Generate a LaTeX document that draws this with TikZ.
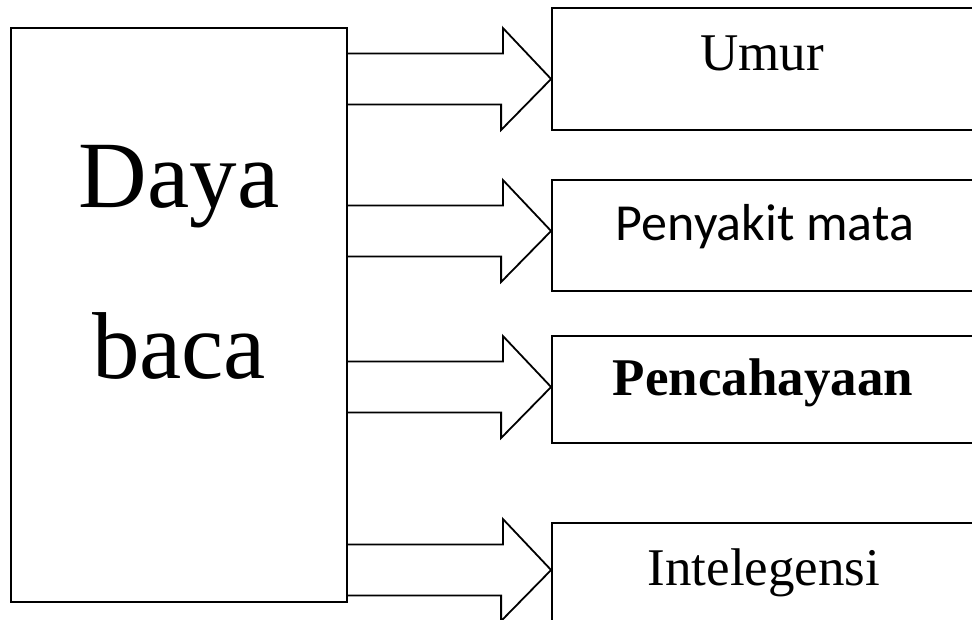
\documentclass[tikz,border=0pt]{standalone}
\usepackage{fontspec}
\setmainfont{Liberation Serif}
\newfontfamily\calibrifont{Carlito}
\begin{document}
\begin{tikzpicture}[x=1pt,y=-1pt,
  boxs/.style={draw=black,line width=1.8pt,inner sep=0pt},
  blk/.style={draw=black,line width=1.8pt,line join=miter},
  lbl/.style={anchor=base,inner sep=0pt,font=\fontsize{53}{60}\selectfont}]
\clip (0,0) rectangle (972,619);
\fill[white] (0,0) rectangle (972,619);
% source box
\node[boxs,minimum width=336pt,minimum height=574pt] (src) at (179,315) {};
\node[anchor=base,inner sep=0pt,font=\fontsize{95}{100}\selectfont] (daya) at (179,207) {Daya};
\node[anchor=base,inner sep=0pt,font=\fontsize{95}{100}\selectfont] (baca) at (179,378) {baca};
% target boxes
\node[boxs,minimum width=422pt,minimum height=122pt] (b1) at (763,69) {};
\node[boxs,minimum width=422pt,minimum height=111pt] (b2) at (763,235.5) {};
\node[boxs,minimum width=422pt,minimum height=107pt] (b3) at (763,389.5) {};
\node[boxs,minimum width=422pt,minimum height=120pt] (b4) at (763,583) {};
\node[lbl] (l1) at (762,70) {Umur};
\node[lbl,font=\calibrifont\fontsize{52}{60}\selectfont] (l2) at (765,240) {Penyakit mata};
\node[lbl,font=\bfseries\fontsize{53}{60}\selectfont] (l3) at (763,395) {Pencahayaan};
\node[lbl] (l4) at (764,585) {Intelegensi};
% arrow tips on the left edge of each target box
\coordinate (t1) at (b1.west |- 0,79);
\coordinate (t2) at (b2.west |- 0,231);
\coordinate (t3) at (b3.west |- 0,387);
\coordinate (t4) at (b4.west |- 0,570);
\foreach \t in {t1,t2,t3,t4}{
  \draw[blk] (src.east |- \t) ++(0,-25.5) -- ++(155,0) -- ++(0,-25.5) -- (\t)
     -- ++(-50,51) -- ++(0,-25.5) -- ++(-155,0);
}
\end{tikzpicture}
\end{document}
